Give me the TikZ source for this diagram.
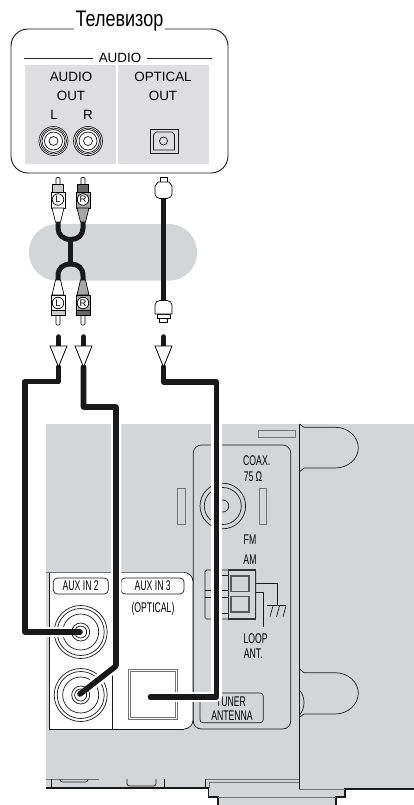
\documentclass[tikz,border=0pt]{standalone}
\usepackage{fontspec}
\setmainfont{Liberation Sans}
\newfontfamily\titlefont[FakeStretch=0.8]{Liberation Sans}
\newfontfamily\devfont[FakeStretch=0.62]{Liberation Sans}
\usepackage{tikz}
\usetikzlibrary{
	positioning,
	calc
}
\definecolor{devgray}{HTML}{D4D5D7}
\definecolor{tvgray}{HTML}{DEDEE0}

\begin{document}
\begin{tikzpicture}[
			x=1pt, y=-1pt,
			tvlabel/.style={inner sep=0pt, font=\fontsize{13.4}{13.4}\selectfont},
			devlabel/.style={inner sep=0pt, font=\devfont\fontsize{14}{14}\selectfont},
			plugletter/.style={
				circle, draw, line width=0.7pt, fill=white, minimum size=11.5pt,
				inner sep=0pt, font=\fontsize{9.5}{9.5}\selectfont
			},
			thinline/.style={line width=0.7pt, black!90},
			grayline/.style={line width=0.9pt, black!55},
			edgeline/.style={line width=1.6pt, black!90},
			cable/.style={line width=5.6pt, black!90, line join=round},
			halo/.style={line width=10.5pt, white, line join=round},
			ycable/.style={line width=5pt, black!90},
			plugbody/.style={draw, line width=0.7pt, line join=round}
			]
			\useasboundingbox (0,0) rectangle (414,805);
			
			% ---------------- device ----------------
			\fill[devgray] (46,424) -- (414,424) -- (414,789) -- (345,789) -- (345,797) -- (335.7,797)
				-- (335.7,805) -- (218,805) -- (218,797) -- (208.3,797) -- (208.3,788) -- (46,788) -- cycle;
			\draw[edgeline] (46,788) -- (208.3,788) -- (208.3,797) -- (218,797) -- (218,805);
			\draw[edgeline] (414,789) -- (345,789) -- (345,797) -- (335.7,797) -- (335.7,805);
			\draw[grayline] (218,797) -- (335.7,797);
			\draw[grayline] (299.3,789) -- (345,789);
			
			% bottom edge details
			\draw[grayline] (46,779) -- (99,779);
			\draw[grayline] (205,779) -- (299.3,779);
			\draw[grayline] (209,782) -- (299.3,782);
			\draw[grayline] (209,782) -- (209,788);
			\draw[thinline] (51.7,779) -- (51.7,788);
			\draw[thinline] (164,779) -- (164,788);
			\draw[thinline] (205,779) -- (205,788);
			\draw[thinline, rounded corners=2.5pt] (60,779) -- (60,782) -- (88,782) -- (88,779);
			\draw[thinline, rounded corners=2.5pt] (127,779) -- (127,786) -- (156,786) -- (156,779);
			
			% right side with the two tabs
			\draw[thinline] (299.3,424) -- (299.3,789);
			\draw[thinline] (299.3,424) -- (304,427.3) -- (335,427.3)
				.. controls (348,427.3) and (358.3,436.5) .. (358.3,448)
				.. controls (358.3,459) and (348,468) .. (335,468) -- (304,468) -- (299.3,472);
			\draw[thinline] (299.3,668.7) -- (304,672.7) -- (335,672.7)
				.. controls (348,672.7) and (358.3,682) .. (358.3,693)
				.. controls (358.3,704.5) and (348,714) .. (335,714) -- (304,714) -- (299.3,717.3);
			\draw[thinline] (299.3,690) .. controls (302.5,693) and (304,698) .. (304,702.5)
				.. controls (304,707) and (302.5,712) .. (299.3,715);
			\draw[grayline] (258.7,430.7) rectangle (295.3,437.7);
			
			% ---------------- tuner panel ----------------
			\draw[thinline, rounded corners=8pt] (193.3,445) rectangle (290.7,729);
			\node[devlabel] (coaxLabel) at (256.7,461) {COAX.};
			\node[devlabel] (ohmLabel) at (253,476.7) {75\,Ω};
			\node[draw, thinline, circle, minimum size=45.6pt, inner sep=0pt] (coaxOuter) at (222.8,506) {};
			\node[draw, thinline, circle, minimum size=37pt, inner sep=0pt] (coaxMiddle) at (222.8,506) {};
			\node[draw, thinline, circle, minimum size=12pt, inner sep=0pt] (coaxInner) at (222.8,506) {};
			\draw[grayline] (177.3,488) rectangle (185,524);
			\draw[grayline] (259.3,488) rectangle (266.7,524);
			\node[devlabel] (fmLabel) at (250,540) {FM};
			\node[devlabel] (amLabel) at (250,560) {AM};
			
			% AM terminal
			\draw[thinline, rounded corners=1.5pt] (205,570) rectangle (255.7,619);
			\draw[line width=1.1pt, black!80] (228.3,570) rectangle (255.7,619);
			\draw[thinline] (212,575) -- (228.3,575);
			\draw[thinline] (205,590.7) -- (228.3,590.7);
			\draw[thinline] (205,597.7) -- (228.3,597.7);
			\draw[thinline] (212,613) -- (228.3,613);
			\draw[thinline] (212,570) -- (212,575);
			\draw[thinline] (212,613) -- (212,619);
			\foreach \sqy/\sqname in {576/sqUp,596.5/sqDown}{
				\draw[line width=1.6pt, black!65] (231,\sqy) rectangle (249,\sqy+15.5);
			}
			\draw[thinline] (255.7,583.3) -- (277.7,583.3) -- (277.7,605);
			\draw[thinline] (255.7,592.7) -- (263.3,592.7) -- (263.3,627);
			\draw[thinline] (267.3,605) -- (286,605);
			\foreach \hx in {273,279.5,286}{
				\draw[thinline] (\hx,606) -- (\hx-3,616.7);
			}
			\node[devlabel] (loopLabel) at (255.7,639) {LOOP};
			\node[devlabel] (antLabel) at (253.3,654) {ANT.};
			
			% tuner antenna label
			\draw[thinline, rounded corners=3pt] (200,693) rectangle (263.3,722.7);
			\node[devlabel] (tunerLabel) at (231,701.7) {TUNER};
			\node[devlabel] (antennaLabel) at (232,715.7) {ANTENNA};
			
			% ---------------- aux panel ----------------
			\fill[white] (49.3,729) -- (49.3,573) [rounded corners=9pt] -- (193,573) -- (193,729) [sharp corners] -- cycle;
			\draw[grayline] (46,572.5) -- (184,572.5);
			\draw[thinline] (49.3,573) -- (49.3,729) -- (184,729);
			\draw[thinline, rounded corners=9pt] (184,572.5) -- (193,572.5) -- (193,729) -- (184,729);
			\draw[thinline] (112.3,675) -- (112.3,729);
			\draw[thinline, rounded corners=4pt] (53.3,578) rectangle (108.3,594);
			\draw[thinline, rounded corners=4pt] (121,578) rectangle (184,594);
			\node[devlabel] (auxTwoLabel) at (80.7,586) {AUX IN 2};
			\node[devlabel] (auxThreeLabel) at (152.7,586) {AUX IN 3};
			\node[devlabel] (opticalLabel) at (153,609) {(OPTICAL)};
			\foreach \jy/\jname in {632/auxTwo,695/auxFour}{
				\foreach \jr in {53,47,36,18,12}{
					\node[draw, thinline, circle, minimum size=\jr pt, inner sep=0pt] (\jname\jr) at (80.7,\jy) {};
				}
			}
			\draw[grayline, line width=1pt] (128,669) rectangle (177,719);
			\draw[grayline] (130,671) rectangle (175,717);
			
			% ---------------- TV ----------------
			\draw[line width=0.9pt, black!90, rounded corners=17pt] (11,29) rectangle (228,173);
			\node[fill=white, inner sep=0pt, minimum width=91pt, minimum height=20pt,
				font=\titlefont\fontsize{22.5}{22.5}\selectfont] (tvLabel) at (119.5,21) {Телевизор};
			\draw[line width=0.7pt, black!85] (24,58) -- (212,58);
			\fill[tvgray] (25,65) rectangle (116,164);
			\fill[tvgray] (118,65) rectangle (209,164);
			\node[tvlabel, fill=white, minimum width=54pt, minimum height=10pt] (audioHead) at (120,58) {AUDIO};
			\node[tvlabel] (audioOut) at (71,77) {AUDIO};
			\node[tvlabel] (audioOutB) at (71,96) {OUT};
			\node[tvlabel] (leftLabel) at (54,115) {L};
			\node[tvlabel] (rightLabel) at (88,115) {R};
			\node[tvlabel] (opticalOut) at (163,77) {OPTICAL};
			\node[tvlabel] (opticalOutB) at (163,96) {OUT};
			\foreach \jx/\jname in {53.5/jackL,88/jackR}{
				\node[draw, thinline, circle, fill=white, minimum size=29pt, inner sep=0pt] (\jname) at (\jx,141) {};
				\foreach \jr in {26,23,18,9}{
					\node[draw, thinline, circle, minimum size=\jr pt, inner sep=0pt] at (\jx,141) {};
				}
			}
			\draw[thinline, line width=0.9pt] (150,129) rectangle (178,153);
			\draw[thinline] (153.5,135) -- (156,132) -- (172,132) -- (174.5,135) -- (174.5,150) -- (153.5,150) -- cycle;
			\node[draw, thinline, circle, minimum size=8pt, inner sep=0pt] (tvOptical) at (163.5,141) {};
			
			% ---------------- cable link ----------------
			\fill[devgray, rounded corners=28pt] (29,224) rectangle (197,280.7);
			
			\coordinate (topL) at (58,222);
			\coordinate (topR) at (83,222);
			\coordinate (botL) at (58,281);
			\coordinate (botR) at (83,281);
			\coordinate (forkUp) at (70.8,239.5);
			\coordinate (forkDown) at (70.8,264);
			\coordinate (optTop) at (163.5,198);
			\coordinate (optBot) at (163.5,301);
			\draw[ycable] (topL) -- ++(0,6) .. controls (58,235) and (63,239.5) .. (forkUp)
				.. controls (78,239.5) and (83,235) .. (83,228) -- (topR);
			\draw[ycable] (forkUp) -- (forkDown);
			\draw[ycable] (botL) -- ++(0,-5) .. controls (58,268) and (63,264) .. (forkDown)
				.. controls (78,264) and (83,268) .. (83,276) -- (botR);
			\draw[ycable] (optTop) -- (optBot);
			
			% RCA plugs
			\foreach \px/\pname/\pfill/\pband in {58/L/white/black!20,83/R/black!35/black!60}{
				% top
				\draw[plugbody, fill=white, rounded corners=1pt] (\px-2,185) -- (\px-2,177.5) -- (\px+2,177.5) -- (\px+2,185) -- cycle;
				\draw[plugbody, fill=\pband] (\px-5.5,184) rectangle (\px+5.5,192);
				\draw[plugbody, fill=\pfill] (\px-7,192) rectangle (\px+7,208);
				\draw[plugbody, fill=\pfill] (\px-6,208) -- (\px+6,208) -- (\px+2.5,222) -- (\px-2.5,222) -- cycle;
				\node[plugletter] (plugTop\pname) at (\px,199.5) {\pname};
				% bottom
				\draw[plugbody, fill=white, rounded corners=1pt] (\px-2,314) -- (\px-2,325) -- (\px+2,325) -- (\px+2,314) -- cycle;
				\draw[plugbody, fill=\pband] (\px-7,310) rectangle (\px+7,315.5);
				\draw[plugbody, fill=\pfill] (\px-7,295) rectangle (\px+7,310);
				\draw[plugbody, fill=\pfill] (\px-6,295) -- (\px+6,295) -- (\px+2.5,280) -- (\px-2.5,280) -- cycle;
				\node[plugletter] (plugBot\pname) at (\px,303) {\pname};
			}
			
			% optical plugs
			\draw[plugbody, fill=white] (160,183) rectangle (167,177.5);
			\draw[plugbody, fill=white] (155,186) -- (158,182) -- (169,182) -- (172,186) -- (172,193)
				.. controls (172,197) and (169,198.5) .. (167,198.5) -- (160,198.5)
				.. controls (158,198.5) and (155,197) .. (155,193) -- cycle;
			\draw[plugbody, fill=white] (159.5,318) rectangle (167.5,322);
			\draw[plugbody, fill=white] (157,314) rectangle (170,318);
			\draw[plugbody, fill=white] (155,314) -- (155,305) .. controls (155,302) and (157.5,300.5) .. (160,300.5)
				-- (167,300.5) .. controls (169.5,300.5) and (172,302) .. (172,305) -- (172,314) -- cycle;
			
			% ---------------- cables to the device ----------------
			\coordinate (tipL) at (58.5,367);
			\coordinate (tipR) at (83.5,367);
			\coordinate (tipO) at (163.5,367);
			\coordinate (bendL) at (24.7,381.5);
			\coordinate (bendR) at (116,407);
			\coordinate (kneeR) at (116,666);
			\coordinate (bendO) at (216.5,382);
			\coordinate (optEnd) at (150.5,697);
			\coordinate (jackTwoEnd) at (80,632);
			\coordinate (jackFourEnd) at (80,694);
			
			\draw[halo] (tipL) |- (bendL) |- ($(jackTwoEnd)+(-9,0)$);
			\draw[halo] (tipR) |- (bendR) -- (kneeR) -- ($(jackFourEnd)!0.2!(kneeR)$);
			\draw[halo] (tipO) |- (bendO) |- (optEnd);
			\draw[cable, line cap=round] (tipL) |- (bendL) |- (jackTwoEnd);
			\draw[cable, line cap=round] (tipR) |- (bendR) -- (kneeR) -- (jackFourEnd);
			\draw[cable, line cap=round] (tipO) |- (bendO) |- (optEnd);
			
			% arrows with their cable stubs
			\foreach \ax/\aname in {58.5/L,83.5/R,163.5/O}{
				\draw[cable, line cap=round] (\ax,337) -- (\ax,348);
				\draw[line width=0.8pt, fill=white, line join=miter] (\ax-8.5,346) -- (\ax+8.5,346) -- (tip\aname) -- cycle;
			}
		\end{tikzpicture}
\end{document}
